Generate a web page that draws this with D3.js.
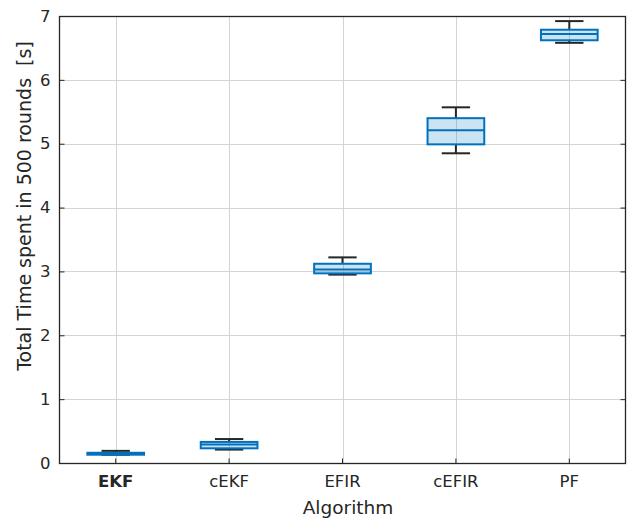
<!DOCTYPE html>
<html>
<head>
<meta charset="utf-8">
<script src="https://cdn.jsdelivr.net/npm/d3@7"></script>
<style>
  body { margin: 0; background: #fff; }
  text { font-family: "DejaVu Sans", sans-serif; fill: #262626; }
</style>
</head>
<body>
<svg id="chart" width="633" height="519"></svg>
<script>
// Run-time summary per algorithm (seconds over 500 rounds)
const algorithms = ["EKF", "cEKF", "EFIR", "cEFIR", "PF"];
const whiskerLow  = [0.13, 0.21, 2.95, 4.85, 6.58];
const quartile1   = [0.13, 0.23, 2.97, 4.99, 6.62];
const medians     = [0.145, 0.29, 3.03, 5.21, 6.72];
const quartile3   = [0.16, 0.33, 3.12, 5.40, 6.785];
const whiskerHigh = [0.19, 0.375, 3.22, 5.57, 6.92];
const yTicks = [0, 1, 2, 3, 4, 5, 6, 7];

const margin = { left: 59, right: 7, top: 16, bottom: 56 };
const W = 633, H = 519;
const svg = d3.select("#chart");
const x = d3.scaleBand().domain(algorithms).range([margin.left, W - margin.right]);
const y = d3.scaleLinear().domain([0, 7]).range([H - margin.bottom, margin.top]);
const x0 = margin.left, x1 = W - margin.right, y0 = H - margin.bottom, y1 = margin.top;

const data = algorithms.map((a, i) => ({
  name: a, lo: whiskerLow[i], q1: quartile1[i], med: medians[i], q3: quartile3[i], hi: whiskerHigh[i]
}));

// grid
const grid = svg.append("g").attr("stroke", "#d4d4d4").attr("stroke-width", 1);
yTicks.forEach(t => grid.append("line").attr("x1", x0).attr("x2", x1)
  .attr("y1", Math.round(y(t)) + 0.5).attr("y2", Math.round(y(t)) + 0.5));
algorithms.forEach(a => {
  const cx = Math.round(x(a) + x.bandwidth() / 2) + 0.5;
  grid.append("line").attr("x1", cx).attr("x2", cx).attr("y1", y0).attr("y2", y1);
});

// boxes
const boxW = x.bandwidth() * 0.5, capW = x.bandwidth() * 0.25;
const g = svg.append("g");
data.forEach(d => {
  const cx = x(d.name) + x.bandwidth() / 2;
  // whiskers
  g.append("line").attr("x1", cx).attr("x2", cx).attr("y1", y(d.hi)).attr("y2", y(d.q3))
    .attr("stroke", "#262626").attr("stroke-width", 2);
  g.append("line").attr("x1", cx).attr("x2", cx).attr("y1", y(d.q1)).attr("y2", y(d.lo))
    .attr("stroke", "#262626").attr("stroke-width", 2);
  g.append("line").attr("x1", cx - capW / 2).attr("x2", cx + capW / 2).attr("y1", y(d.hi)).attr("y2", y(d.hi))
    .attr("stroke", "#262626").attr("stroke-width", 2);
  g.append("line").attr("x1", cx - capW / 2).attr("x2", cx + capW / 2).attr("y1", y(d.lo)).attr("y2", y(d.lo))
    .attr("stroke", "#262626").attr("stroke-width", 2);
  // box
  g.append("rect").attr("x", cx - boxW / 2).attr("width", boxW)
    .attr("y", y(d.q3)).attr("height", Math.max(0.5, y(d.q1) - y(d.q3)))
    .attr("fill", "rgba(0,114,189,0.2)").attr("stroke", "#0072BD").attr("stroke-width", 2);
  g.append("line").attr("x1", cx - boxW / 2).attr("x2", cx + boxW / 2).attr("y1", y(d.med)).attr("y2", y(d.med))
    .attr("stroke", "#0072BD").attr("stroke-width", 2);
});

// frame
svg.append("rect").attr("x", x0 + 0.5).attr("y", y1 + 0.5).attr("width", x1 - x0 - 1).attr("height", y0 - y1)
  .attr("fill", "none").attr("stroke", "#262626").attr("stroke-width", 1.3);

// axes (ticks inward)
const yAxisL = d3.axisLeft(y).tickValues(yTicks).tickSize(-5).tickPadding(9).tickFormat(d3.format("d"));
svg.append("g").attr("transform", `translate(${x0 + 0.5},0)`).call(yAxisL)
  .call(s => s.select(".domain").remove())
  .call(s => s.selectAll("line").attr("stroke", "#262626"))
  .call(s => s.selectAll("text").attr("font-size", 16.5).style("font-family", "DejaVu Sans"));
const yAxisR = d3.axisRight(y).tickValues(yTicks).tickSize(-5).tickFormat("");
svg.append("g").attr("transform", `translate(${x1 - 0.5},0)`).call(yAxisR)
  .call(s => s.select(".domain").remove())
  .call(s => s.selectAll("line").attr("stroke", "#262626"));
const xAxis = d3.axisBottom(x).tickSize(-5).tickPadding(12);
svg.append("g").attr("transform", `translate(0,${y0 + 0.5})`).call(xAxis)
  .call(s => s.select(".domain").remove())
  .call(s => s.selectAll("line").attr("stroke", "#262626"))
  .call(s => s.selectAll("text").attr("font-size", 16.5).style("font-family", "DejaVu Sans")
    .attr("font-weight", d => d === "EKF" ? "bold" : "normal"));

// titles
svg.append("text").attr("x", 348).attr("y", 514).attr("text-anchor", "middle")
  .attr("font-size", 18.5).text("Algorithm");
svg.append("text").attr("transform", `translate(31,206) rotate(-90)`)
  .attr("text-anchor", "middle").attr("font-size", 19).text("Total Time spent in 500 rounds\u00a0\u00a0[s]");
</script>
</body>
</html>
